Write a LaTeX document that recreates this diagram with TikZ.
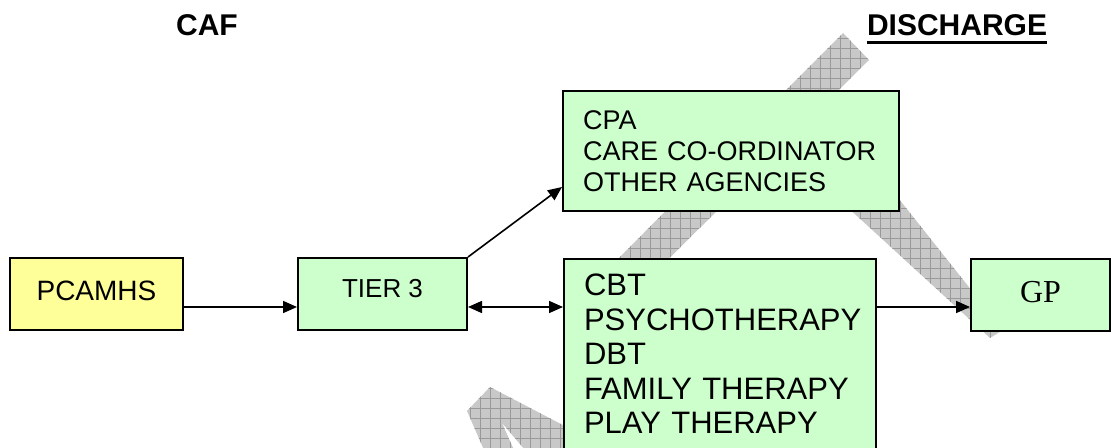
\documentclass[tikz,border=0pt]{standalone}
\usepackage{fontspec}
\setmainfont{Liberation Sans}
\newfontfamily\gpfont{Liberation Serif}
\usetikzlibrary{arrows.meta}
\definecolor{boxyellow}{HTML}{FFFF99}
\definecolor{boxgreen}{HTML}{CCFFCC}
\definecolor{wmfill}{HTML}{C8C8C8}
\definecolor{wmgrid}{HTML}{999999}
\tikzset{
	box/.style={draw,line width=1pt,inner sep=0pt,minimum height=36pt},
	listbox/.style={draw,line width=1pt,fill=boxgreen,align=left,inner xsep=10pt},
	title/.style={font=\fontsize{15}{18}\selectfont\bfseries,inner sep=0pt},
	arr/.style={-{Triangle[length=7pt,width=6pt]},line width=0.8pt},
	dblarr/.style={{Triangle[length=7pt,width=6pt]}-{Triangle[length=7pt,width=6pt]},line width=0.8pt},
}
\begin{document}
\begin{tikzpicture}[x=0.5pt,y=0.5pt]
		\useasboundingbox (0,0) rectangle (1111,448);
		\clip (0,0) rectangle (1111,448);
		% watermark bands
		\foreach \wm in {{(843,415) -- (869,388) -- (600,121) -- (575,146) -- cycle},
			{(785,298) -- (860,298) -- (1003,118) -- (990,110) -- cycle},
			{(467,37) -- (490,61) -- (580,14) -- (580,-2) -- (525,-2) -- (502,25) -- (514,-2) -- (484,-2) -- cycle}} {
			\begin{scope}
				\clip \wm;
				\fill[wmfill] (400,-10) rectangle (1111,448);
				\draw[wmgrid,line width=0.4pt,step=10] (400,-10) grid (1111,448);
			\end{scope}
		}
		% headings
		\node[title] (caf) at (207,423) {CAF};
		\node[title] (discharge) at (957,423) {DISCHARGE};
		\draw[line width=1.6pt] ([yshift=-3.5pt]discharge.base west) -- ([yshift=-3.5pt]discharge.base east);
		% boxes
		\node[box,fill=boxyellow,minimum width=86.5pt,font=\fontsize{14}{16}\selectfont] (pcamhs) at (96.5,154) {\raisebox{3.5pt}{PCAMHS}};
		\node[box,fill=boxgreen,minimum width=84.5pt,font=\fontsize{13}{15}\selectfont] (tier) at (382.5,154) {\raisebox{5.5pt}{TIER 3}};
		\node[listbox,text width=148pt,minimum height=60pt,font=\fontsize{13.5}{15.5}\selectfont] (cpa) at (731,297) {CPA\\CARE CO-ORDINATOR\\OTHER AGENCIES};
		\node[listbox,text width=136pt,inner ysep=7.5pt,anchor=north west,font=\fontsize{15.5}{17.25}\selectfont] (cbt) at (563,190) {CBT\\PSYCHOTHERAPY\\DBT\\FAMILY THERAPY\\PLAY THERAPY};
		\node[box,fill=boxgreen,minimum width=69.5pt,font=\gpfont\fontsize{16}{18}\selectfont] (gp) at (1040.5,153) {\raisebox{3pt}{GP}};
		% arrows
		\draw[arr] ([yshift=-6.5pt]pcamhs.east) -- ([yshift=-6.5pt]tier.west);
		\draw[dblarr] ([yshift=-6.5pt]tier.east) -- ([yshift=-6.5pt]tier.east -| cbt.west);
		\draw[arr] (tier.north east) -- ([yshift=-18pt]cpa.west);
		\draw[arr] ([yshift=-6pt]gp.west -| cbt.east) -- ([yshift=-6pt]gp.west);
	\end{tikzpicture}
\end{document}
